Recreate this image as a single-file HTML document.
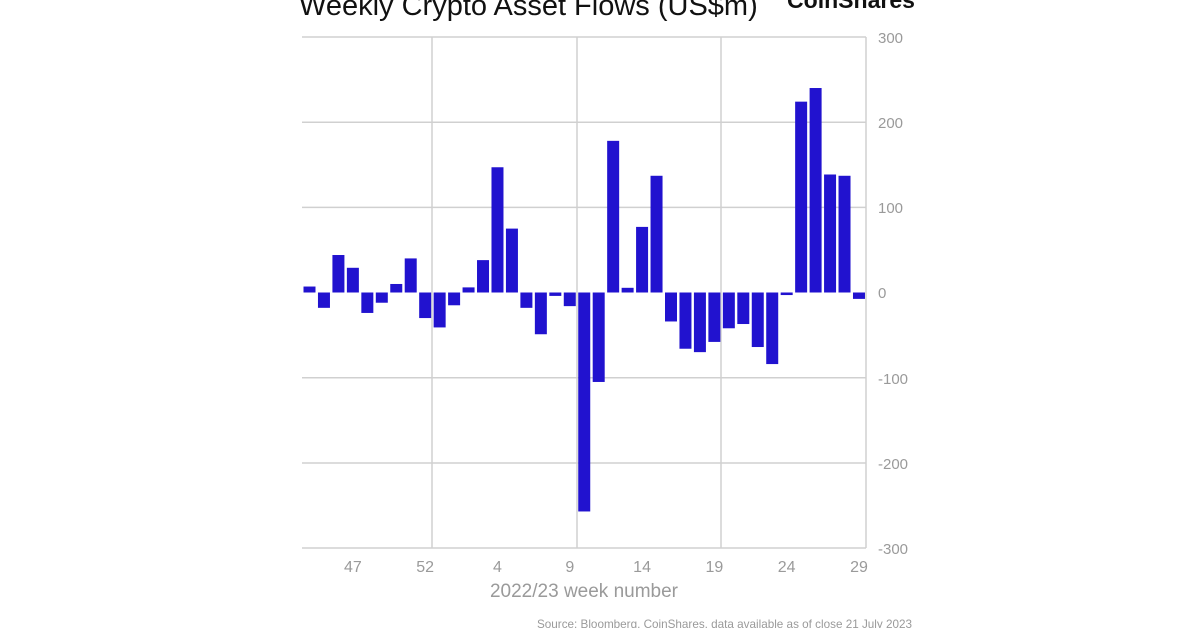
<!DOCTYPE html>
<html><head><meta charset="utf-8"><style>
html,body{margin:0;padding:0;background:#fff;width:1200px;height:628px;overflow:hidden}
svg{display:block;font-family:"Liberation Sans",sans-serif}
</style></head><body>
<svg width="1200" height="628" viewBox="0 0 1200 628" xmlns="http://www.w3.org/2000/svg">
<text x="299" y="15" font-size="29" fill="#111">Weekly Crypto Asset Flows (US$m)</text>
<text x="787" y="8" font-size="23" font-weight="bold" fill="#111" textLength="128" lengthAdjust="spacingAndGlyphs">CoinShares</text>
<g stroke="#d0d0d0" stroke-width="1.5" fill="none">
<line x1="302" y1="37" x2="866" y2="37"/>
<line x1="302" y1="122.2" x2="866" y2="122.2"/>
<line x1="302" y1="207.4" x2="866" y2="207.4"/>
<line x1="302" y1="377.8" x2="866" y2="377.8"/>
<line x1="302" y1="463" x2="866" y2="463"/>
<line x1="302" y1="548" x2="866" y2="548"/>
<line x1="432" y1="37" x2="432" y2="548"/>
<line x1="577" y1="37" x2="577" y2="548"/>
<line x1="721" y1="37" x2="721" y2="548"/>
<line x1="866" y1="37" x2="866" y2="548"/>
</g>
<g id="bars" fill="#2112cf"></g>
<g fill="#9a9a9a" font-size="15" text-anchor="start">
<text x="878" y="43">300</text>
<text x="878" y="128">200</text>
<text x="878" y="213">100</text>
<text x="878" y="298">0</text>
<text x="878" y="384">-100</text>
<text x="878" y="469">-200</text>
<text x="878" y="554">-300</text>
</g>
<g fill="#9a9a9a" font-size="16" text-anchor="middle" id="xl"></g>
<text x="584" y="597" font-size="19" fill="#9a9a9a" text-anchor="middle">2022/23 week number</text>
<text x="912" y="628" font-size="11.7" fill="#9a9a9a" text-anchor="end" textLength="375" lengthAdjust="spacingAndGlyphs">Source: Bloomberg, CoinShares, data available as of close 21 July 2023</text>
<script>
var v=[7,-18,44,29,-24,-12,10,40,-30,-41,-15,6,38,147,75,-18,-49,-4,-16,-257,-105,178,5.5,77,137,-34,-66,-70,-58,-42,-37,-64,-84,-3,224,240,138.5,137,-7.5];
var g=document.getElementById('bars'),ns='http://www.w3.org/2000/svg',z=292.5,k=0.852;
v.forEach(function(d,i){var r=document.createElementNS(ns,'rect');var x=303.5+i*14.46;var h=Math.abs(d)*k;
r.setAttribute('x',x);r.setAttribute('width',12);r.setAttribute('y',d>0?z-h:z);r.setAttribute('height',h);g.appendChild(r);});
var L=['47','52','4','9','14','19','24','29'],xl=document.getElementById('xl');
L.forEach(function(t,j){var i=3+5*j;var e=document.createElementNS(ns,'text');e.setAttribute('x',309.5+i*14.46);e.setAttribute('y',572);e.textContent=t;xl.appendChild(e);});
</script>
</svg>
</body></html>
